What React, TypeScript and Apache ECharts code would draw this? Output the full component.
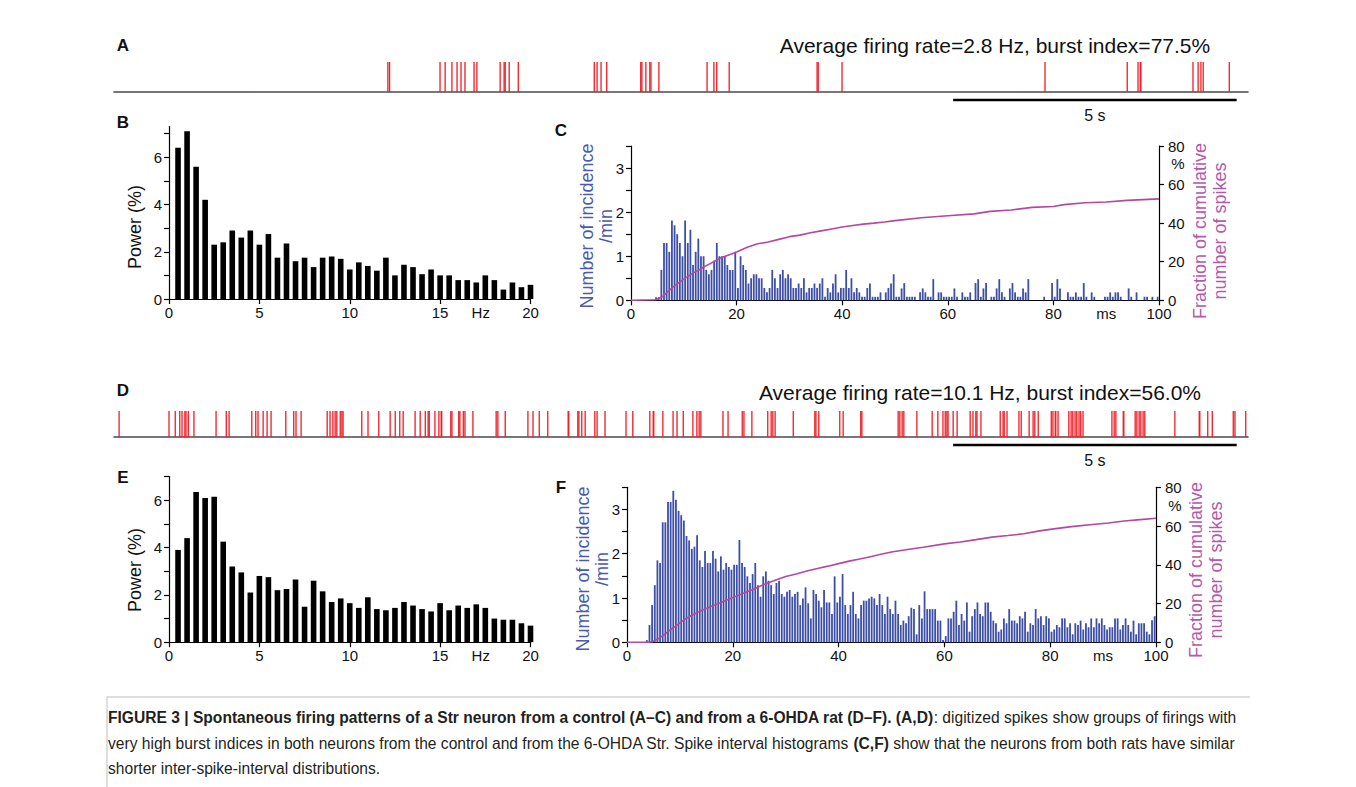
import React, { useEffect, useRef } from 'react';
import * as echarts from 'echarts';

// ---------- DATA ----------
// spike times (s) of the 20-s digitized traces
const spikesA = [4.83, 4.86, 5.75, 5.84, 5.96, 6.05, 6.12, 6.19, 6.35, 6.40, 6.81, 6.88, 6.90, 6.97, 7.13,
  8.47, 8.52, 8.59, 8.69, 9.29, 9.31, 9.38, 9.45, 9.47, 9.61, 10.46, 10.58, 10.63, 10.85, 12.40, 12.42, 12.84,
  16.42, 17.87, 18.06, 18.10, 18.11, 19.03, 19.12, 19.17, 19.21, 19.67];
const spikesD = [0.09, 0.97, 1.08, 1.16, 1.20, 1.25, 1.27, 1.31, 1.41, 1.80, 1.98, 2.03, 2.43, 2.50, 2.54, 2.63,
  2.70, 2.77, 3.03, 3.17, 3.21, 3.30, 3.76, 3.81, 3.86, 3.90, 3.93, 3.99, 4.02, 4.04, 4.37, 4.48, 4.67, 4.87,
  4.96, 5.04, 5.10, 5.31, 5.40, 5.49, 5.54, 5.56, 5.66, 5.73, 5.77, 5.78, 5.94, 5.96, 6.08, 6.10, 6.16, 6.19,
  6.33, 6.74, 6.77, 6.90, 7.30, 7.39, 7.50, 7.65, 8.01, 8.02, 8.18, 8.20, 8.25, 8.31, 8.48, 8.52, 8.66, 9.03,
  9.15, 9.45, 9.51, 9.52, 9.68, 9.86, 9.93, 10.04, 10.21, 10.28, 10.32, 10.35, 10.74, 10.83, 11.08, 11.11,
  11.25, 11.53, 11.59, 11.62, 11.66, 11.98, 12.36, 12.38, 12.43, 12.80, 12.86, 13.17, 13.19, 13.83, 13.86,
  13.90, 13.93, 14.16, 14.43, 14.53, 14.62, 14.66, 14.69, 14.71, 14.80, 14.87, 15.10, 15.15, 15.20, 15.22,
  15.29, 15.63, 15.68, 15.70, 15.75, 15.96, 16.00, 16.14, 16.21, 16.24, 16.30, 16.53, 16.56, 16.60, 16.61,
  16.65, 16.84, 16.88, 16.91, 16.95, 16.98, 17.02, 17.05, 17.09, 17.60, 17.64, 17.67, 17.80, 17.81, 18.01,
  18.04, 18.08, 18.11, 18.15, 18.18, 18.71, 19.14, 19.15, 19.29, 19.37, 19.74, 19.77, 19.96];
const traceLengthS = 20;
const scaleBarS = [14.8, 19.8];

// power spectra (B, E)
const freqHz = [0.5, 1.0, 1.5, 2.0, 2.5, 3.0, 3.5, 4.0, 4.5, 5.0, 5.5, 6.0, 6.5, 7.0, 7.5, 8.0, 8.5, 9.0, 9.5, 10.0,
  10.5, 11.0, 11.5, 12.0, 12.5, 13.0, 13.5, 14.0, 14.5, 15.0, 15.5, 16.0, 16.5, 17.0, 17.5, 18.0, 18.5, 19.0, 19.5, 20.0];
const powerB = [6.4, 7.1, 5.6, 4.2, 2.3, 2.4, 2.9, 2.6, 2.9, 2.3, 2.75, 1.75, 2.35, 1.6, 1.75, 1.35, 1.75, 1.8, 1.7, 1.25,
  1.55, 1.4, 1.2, 1.75, 1.0, 1.45, 1.35, 1.05, 1.25, 1.0, 1.0, 0.8, 0.8, 0.7, 1.0, 0.8, 0.4, 0.7, 0.5, 0.6];
const powerE = [3.9, 4.4, 6.35, 6.1, 6.15, 4.25, 3.2, 2.95, 2.1, 2.8, 2.75, 2.2, 2.25, 2.65, 1.5, 2.6, 2.15, 1.7, 1.85, 1.65,
  1.45, 1.9, 1.4, 1.35, 1.45, 1.7, 1.55, 1.4, 1.3, 1.65, 1.35, 1.55, 1.45, 1.6, 1.45, 1.0, 0.95, 0.95, 0.8, 0.7];

// inter-spike-interval histograms (0.5-ms bins, 0-100 ms), incidence / min
const BIN_MS = 0.5;
const histC = [0, 0, 0, 0, 0, 0, 0, 0, 0,
  0.07, 0.07, 0.69, 1.3, 1.3, 1.1, 1.81, 1.7, 1.5, 1.3,
  1.0, 1.81, 1.3, 1.6, 0.8, 1.1, 1.4, 1.0, 1.0, 0.69,
  0.59, 0.69, 0.9, 1.3, 1.0, 1.0, 1.0, 0.8, 0.69, 0.69,
  1.1, 0.28, 1.0, 0.8, 0.69, 0.38, 0.5, 0.59, 0.59, 0.5,
  0.5, 0.28, 0.18, 0.28, 0.69, 0.5, 0.28, 0.59, 0.69, 0.5,
  0.59, 0.5, 0.28, 0.28, 0.38, 0.28, 0.5, 0.18, 0.28, 0.28,
  0.38, 0.28, 0.38, 0.5, 0.08, 0.28, 0.18, 0.38, 0.59, 0.18,
  0.28, 0.28, 0.69, 0.28, 0.5, 0.18, 0.28, 0.18, 0.08, 0.08,
  0.28, 0.38, 0.08, 0.08, 0.08, 0.18, 0, 0.18, 0.28, 0.38,
  0.59,
  0.08, 0.08, 0.27, 0.39, 0.08, 0.08, 0.08, 0.08, 0, 0.18,
  0.27, 0.18, 0.08, 0.08, 0.48, 0, 0.18, 0.18, 0.08, 0.08,
  0.08, 0.08, 0.27, 0.08, 0, 0.18, 0.08, 0.08, 0.18, 0,
  0.39, 0.48, 0.08, 0.27, 0.39, 0, 0.08, 0.08, 0.27, 0.48,
  0.18, 0.08, 0, 0.27, 0.39, 0.18, 0.08, 0.08, 0.27, 0.18,
  0.48, 0, 0, 0, 0, 0, 0.08, 0, 0, 0.39,
  0.08, 0.48, 0.27, 0, 0, 0.18, 0.08, 0.08, 0.18, 0.08,
  0.08, 0.39, 0.08, 0, 0.18, 0.08, 0, 0, 0, 0.08,
  0.08, 0.18, 0.08, 0.18, 0.18, 0.08, 0, 0, 0.27, 0.08,
  0, 0.18, 0, 0, 0.08, 0.08, 0, 0.08, 0, 0.08];
const histF = [0, 0, 0, 0, 0, 0, 0,
  0.05, 0.39, 0.84, 1.29, 1.85, 1.79, 2.71, 2.71, 3.17, 3.17,
  3.42, 3.22, 2.97, 2.87, 2.75, 2.4, 2.3, 2.11, 2.16, 2.42,
  1.85, 1.7, 2.06, 1.79, 1.79, 2.06, 1.89, 1.6, 1.94, 1.64,
  1.79, 1.7, 1.64, 1.75, 1.75, 2.31, 1.79, 1.7, 1.49, 1.34,
  1.54, 1.79, 1.29, 1.03, 1.49, 1.6, 1.39, 1.29, 1.09, 1.34,
  1.39, 1.09, 1.03, 1.14, 1.18, 1.03, 1.09, 1.14, 0.84, 0.99,
  1.24, 0.88, 0.54, 1.18, 1.09, 0.94, 0.79, 1.18, 0.9, 0.9,
  0.64, 1.49, 0.9, 1.03, 1.54, 0.84, 0.64, 0.84, 1.14, 0.64,
  0.54, 0.84, 0.94, 0.94, 0.99, 1.03, 0.99, 0.84, 1.09, 0.84,
  0.64, 1.03, 0.75, 0.64, 0.94, 0.64,
  0.39, 0.49, 0.43, 0.59, 0.78, 0.75, 0.18, 0.84, 0.54, 1.15,
  0.75, 0.75, 0.75, 0.75, 0.49, 0.49, 0.05, 0.14, 0.54, 0.54,
  0.69, 0.94, 0.39, 0.64, 0.49, 0.9, 0.24, 0.59, 0.75, 0.9,
  0.64, 0.59, 0.9, 0.9, 0.69, 0.49, 0.43, 0.24, 0.29, 0.54,
  0.43, 0.75, 0.49, 0.49, 0.43, 0.59, 0.54, 0.69, 0.24, 0.43,
  0.39, 0.75, 0.54, 0.59, 0.39, 0.59, 0.54, 0.24, 0.29, 0.39,
  0.34, 0.54, 0.54, 0.34, 0.43, 0.18, 0.43, 0.39, 0.49, 0.29,
  0.43, 0.34, 0.54, 0.34, 0.54, 0.43, 0.54, 0.39, 0.29, 0.34,
  0.34, 0.54, 0.54, 0.29, 0.39, 0.54, 0.39, 0.24, 0.49, 0.18,
  0.43, 0.43, 0.43, 0.24, 0.18, 0.5, 0.59];

// cumulative fraction of spikes (%)
const cumMsC = [0, 4.5, 5, 6, 7, 8, 9, 10, 11, 12, 13, 14, 15, 16, 17, 18, 19, 20, 22, 24, 26, 28, 30, 32, 34, 36, 38, 40,
  42, 44, 46, 48, 50, 55, 60, 65, 68, 72, 76, 80, 82, 86, 90, 94, 100];
const cumPctC = [0, 0.3, 0.6, 2, 4.5, 7, 9, 11, 12.8, 14.5, 16, 17.6, 19, 20.5, 22, 23, 24, 25, 27.5, 29.3, 30.2, 31.6,
  33, 33.8, 35, 36, 37, 38, 38.8, 39.5, 40, 40.6, 41.3, 42.8, 43.8, 44.8, 46.1, 46.8, 48.2, 48.6, 49.6, 50.6, 51, 51.8, 52.6];
const cumMsF = [0, 4, 4.7, 6, 7, 8, 9, 10, 11, 12, 13, 14, 15, 16, 17, 18, 19, 20, 22, 24, 26, 28, 30, 32, 34, 36, 38, 40,
  42, 44, 46, 48, 50, 53, 56, 60, 63, 66, 69, 72, 75, 78, 80, 84, 88, 91, 94, 97, 100];
const cumPctF = [0, 0, 0.3, 2, 3.8, 6, 8, 10, 12, 13.6, 15, 16.3, 17.5, 18.6, 19.7, 20.8, 22, 23.1, 25.3, 27.5, 30, 32,
  34, 35.3, 36.8, 38.1, 39.3, 40.6, 41.9, 43, 44.2, 45.4, 46.6, 47.9, 49.1, 50.8, 51.8, 53, 54.3, 55.1, 56, 57.5, 58.3,
  59.7, 60.8, 61.6, 62.6, 63.3, 64];

const titleA = 'Average firing rate=2.8 Hz, burst index=77.5%';
const titleD = 'Average firing rate=10.1 Hz, burst index=56.0%';

// ---------- STYLE ----------
const SANS = '"Liberation Sans", Arial, Helvetica, sans-serif';
const NARROW = '"Liberation Sans Narrow", "Liberation Sans", Arial, sans-serif';
const RED = '#ee1c25';
const BLUE = '#3d4ea6';
const BLUE_TXT = '#4a5aad';
const MAG = '#b4489e';
const MAG_TXT = '#b25aab';

const lineStyle = { color: '#000', width: 1.2 };
const label = { color: '#111', fontSize: 15, fontFamily: NARROW };

function valueAxis(extra: any) {
  return {
    type: 'value',
    splitLine: { show: false },
    axisLine: { show: true, onZero: false, lineStyle },
    axisTick: { show: true, length: 5, lineStyle },
    ...extra,
    axisLabel: { ...label, ...(extra.axisLabel || {}) },
  };
}

function trainAxis(grid: number) {
  return {
    type: 'value', gridIndex: grid, min: 0, max: traceLengthS,
    axisLine: { show: true, onZero: false, lineStyle: { color: '#4a4a4a', width: 1.6 } },
    axisTick: { show: false }, axisLabel: { show: false }, splitLine: { show: false },
  };
}

function spikeSeries(data: number[], axis: number) {
  return {
    type: 'custom', xAxisIndex: axis, yAxisIndex: axis === 0 ? 0 : 4,
    silent: true, clip: false,
    data: data.map((t) => [t, 1]),
    encode: { x: 0, y: 1 },
    renderItem: (_p: any, api: any) => {
      const t = api.value(0);
      const a = api.coord([t, 0]);
      const b = api.coord([t, 1]);
      return { type: 'line', shape: { x1: a[0], y1: a[1], x2: b[0], y2: b[1] }, style: { stroke: RED, lineWidth: 1.3 } };
    },
  };
}

function scaleBarSeries(axis: number) {
  return {
    type: 'custom', xAxisIndex: axis, yAxisIndex: axis === 0 ? 0 : 4,
    silent: true, clip: false,
    data: [[scaleBarS[0], scaleBarS[1]]],
    encode: { x: [0, 1] },
    renderItem: (_p: any, api: any) => {
      const a = api.coord([api.value(0), 0]);
      const b = api.coord([api.value(1), 0]);
      const y = a[1] + 8;
      return {
        type: 'group',
        children: [
          { type: 'line', shape: { x1: a[0], y1: y, x2: b[0], y2: y }, style: { stroke: '#000', lineWidth: 2.5 } },
          {
            type: 'text', x: (a[0] + b[0]) / 2, y: y + 15,
            style: { text: (scaleBarS[1] - scaleBarS[0]) + ' s', fill: '#111', fontSize: 16, fontFamily: SANS, align: 'center', verticalAlign: 'middle' },
          },
        ],
      };
    },
  };
}

const specXAxis = (grid: number) => valueAxis({
  gridIndex: grid, min: 0, max: 20,
  axisTick: { show: true, length: 5, lineStyle, customValues: [0, 5, 10, 15, 20] },
  axisLabel: { customValues: [0, 5, 10, 15, 17.25, 20], formatter: (v: number) => (v === 17.25 ? 'Hz' : String(v)), margin: 6 },
});
const specYAxis = (grid: number, max: number) => valueAxis({
  gridIndex: grid, min: 0, max,
  axisTick: { show: true, length: 5, lineStyle, customValues: [0, 1, 2, 3, 4, 5, 6, 7] },
  axisLabel: { customValues: [0, 2, 4, 6], margin: 7 },
});
const isiXAxis = (grid: number) => valueAxis({
  gridIndex: grid, min: 0, max: 100,
  axisTick: { show: true, length: 5, lineStyle, customValues: [0, 20, 40, 60, 80, 100] },
  axisLabel: { customValues: [0, 20, 40, 60, 80, 90, 100], formatter: (v: number) => (v === 90 ? 'ms' : String(v)), margin: 6 },
});
const isiLeftAxis = (grid: number) => valueAxis({
  gridIndex: grid, min: 0, max: 3.5, position: 'left',
  axisTick: { show: true, length: 5, lineStyle, customValues: [0, 0.5, 1, 1.5, 2, 2.5, 3, 3.5] },
  axisLabel: { customValues: [0, 1, 2, 3], margin: 7 },
});
const isiRightAxis = (grid: number) => valueAxis({
  gridIndex: grid, min: 0, max: 80, position: 'right',
  axisTick: { show: true, length: 5, lineStyle, customValues: [0, 20, 40, 60, 80] },
  axisLabel: { customValues: [0, 20, 40, 60, 80], margin: 9 },
});

function txt(text: string, x: number, y: number, o: any = {}) {
  return {
    type: 'text', x, y, rotation: o.rotation || 0, silent: true,
    style: {
      text, fill: o.fill || '#111', fontSize: o.fontSize || 16, fontFamily: o.fontFamily || SANS,
      fontWeight: o.fontWeight || 'normal', align: o.align || 'center', verticalAlign: o.verticalAlign || 'middle',
      lineHeight: o.lineHeight,
    },
  };
}

const CAP_SIZE = 15.6;
const CAP_LH = 25.5;
const captionText =
  '{b|FIGURE 3 | Spontaneous firing patterns of a Str neuron from a control (A–C) and from a 6-OHDA rat (D–F). (A,D)}{n|: digitized spikes show groups of firings with}\n' +
  '{n|very high burst indices in both neurons from the control and from the 6-OHDA Str. Spike interval histograms }{b|(C,F)}{n| show that the neurons from both rats have similar}\n' +
  '{n|shorter inter-spike-interval distributions.}';

function buildOption() {
  const bins = histC.map((_, i) => (i + 0.5) * BIN_MS);
  return {
    animation: false,
    grid: [
      { left: 114, top: 62, width: 1134, height: 30 },
      { left: 169, top: 126.6, width: 361.5, height: 172.4 },
      { left: 631, top: 146, width: 528, height: 154.3 },
      { left: 114, top: 411, width: 1134, height: 26 },
      { left: 169, top: 476.6, width: 361.5, height: 165.6 },
      { left: 627, top: 487.3, width: 529, height: 155 },
    ],
    xAxis: [trainAxis(0), specXAxis(1), isiXAxis(2), trainAxis(3), specXAxis(4), isiXAxis(5)],
    yAxis: [
      { type: 'value', gridIndex: 0, min: 0, max: 1, show: false },
      specYAxis(1, 7.3),
      isiLeftAxis(2),
      isiRightAxis(2),
      { type: 'value', gridIndex: 3, min: 0, max: 1, show: false },
      specYAxis(4, 7),
      isiLeftAxis(5),
      isiRightAxis(5),
    ],
    series: [
      spikeSeries(spikesA, 0),
      scaleBarSeries(0),
      {
        type: 'bar', xAxisIndex: 1, yAxisIndex: 1, barWidth: 5.6, silent: true,
        itemStyle: { color: '#000' }, data: freqHz.map((f, i) => [f, powerB[i]]),
      },
      {
        type: 'bar', xAxisIndex: 2, yAxisIndex: 2, barWidth: 1.8, silent: true,
        itemStyle: { color: BLUE }, data: bins.map((b, i) => [b, histC[i]]),
      },
      {
        type: 'line', xAxisIndex: 2, yAxisIndex: 3, showSymbol: false, symbol: 'none', silent: true, z: 5,
        lineStyle: { color: MAG, width: 1.6 }, data: cumMsC.map((m, i) => [m, cumPctC[i]]),
      },
      spikeSeries(spikesD, 3),
      scaleBarSeries(3),
      {
        type: 'bar', xAxisIndex: 4, yAxisIndex: 5, barWidth: 5.6, silent: true,
        itemStyle: { color: '#000' }, data: freqHz.map((f, i) => [f, powerE[i]]),
      },
      {
        type: 'bar', xAxisIndex: 5, yAxisIndex: 6, barWidth: 1.8, silent: true,
        itemStyle: { color: BLUE }, data: bins.map((b, i) => [b, histF[i]]),
      },
      {
        type: 'line', xAxisIndex: 5, yAxisIndex: 7, showSymbol: false, symbol: 'none', silent: true, z: 5,
        lineStyle: { color: MAG, width: 1.6 }, data: cumMsF.map((m, i) => [m, cumPctF[i]]),
      },
    ],
    graphic: [
      txt('A', 123, 45, { fontWeight: 'bold', fontSize: 17 }),
      txt('B', 123, 122, { fontWeight: 'bold', fontSize: 17 }),
      txt('C', 561, 130, { fontWeight: 'bold', fontSize: 17 }),
      txt('D', 123, 390, { fontWeight: 'bold', fontSize: 17 }),
      txt('E', 123, 477, { fontWeight: 'bold', fontSize: 17 }),
      txt('F', 561, 487, { fontWeight: 'bold', fontSize: 17 }),
      txt(titleA, 995, 45, { fontSize: 21 }),
      txt(titleD, 980, 392, { fontSize: 21 }),
      txt('Power (%)', 135, 227, { fontSize: 18, rotation: Math.PI / 2 }),
      txt('Power (%)', 135, 570, { fontSize: 18, rotation: Math.PI / 2 }),
      txt('Number of incidence\n/min', 596.5, 226, { fontSize: 18, rotation: Math.PI / 2, fill: BLUE_TXT, lineHeight: 19 }),
      txt('Number of incidence\n/min', 592, 569, { fontSize: 18, rotation: Math.PI / 2, fill: BLUE_TXT, lineHeight: 19 }),
      txt('Fraction of cumulative\nnumber of spikes', 1210, 231, { fontSize: 18, rotation: Math.PI / 2, fill: MAG_TXT, lineHeight: 20 }),
      txt('Fraction of cumulative\nnumber of spikes', 1206, 570, { fontSize: 18, rotation: Math.PI / 2, fill: MAG_TXT, lineHeight: 20 }),
      txt('%', 1178, 163, { fontSize: 15, fontFamily: NARROW }),
      txt('%', 1175, 505, { fontSize: 15, fontFamily: NARROW }),
      { type: 'line', silent: true, shape: { x1: 107, y1: 697, x2: 1250, y2: 697 }, style: { stroke: '#bdbdbd', lineWidth: 1 } },
      { type: 'line', silent: true, shape: { x1: 107, y1: 697, x2: 107, y2: 787 }, style: { stroke: '#bdbdbd', lineWidth: 1 } },
      {
        type: 'text', x: 108, y: 705, silent: true,
        style: {
          text: captionText, fill: '#231f20', fontSize: CAP_SIZE, fontFamily: SANS, align: 'left', verticalAlign: 'top', lineHeight: CAP_LH,
          rich: {
            b: { fontWeight: 'bold', fontSize: CAP_SIZE, fontFamily: SANS, fill: '#231f20', lineHeight: CAP_LH },
            n: { fontWeight: 'normal', fontSize: CAP_SIZE, fontFamily: SANS, fill: '#231f20', lineHeight: CAP_LH },
          },
        },
      },
    ],
  };
}

export default function App() {
  const ref = useRef<HTMLDivElement>(null);
  useEffect(() => {
    document.body.style.margin = '0';
    if (!ref.current) return;
    const chart = echarts.init(ref.current, undefined, { renderer: 'svg' });
    chart.setOption(buildOption() as any);
    return () => chart.dispose();
  }, []);
  return <div ref={ref} style={{ width: 1356, height: 787, background: '#fff' }} />;
}
